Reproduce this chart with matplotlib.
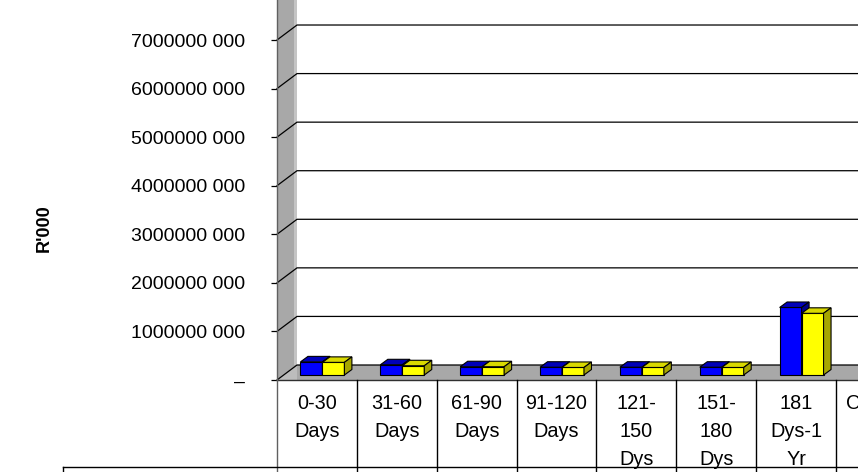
import numpy as np
import matplotlib
matplotlib.use("Agg")
import matplotlib.pyplot as plt
from matplotlib.patches import Polygon
from matplotlib.lines import Line2D
from matplotlib.transforms import blended_transform_factory

# ---------------- data ----------------
categories = ["0-30\nDays", "31-60\nDays", "61-90\nDays", "91-120\nDays",
              "121-\n150\nDys", "151-\n180\nDys", "181\nDys-1\nYr", "Over 1\nYr"]
series_blue = [0.27e9, 0.21e9, 0.17e9, 0.16e9, 0.16e9, 0.16e9, 1.39e9, 8.6e9]
series_yellow = [0.26e9, 0.19e9, 0.17e9, 0.155e9, 0.155e9, 0.155e9, 1.27e9, 8.6e9]
ytick_values = [0, 1e9, 2e9, 3e9, 4e9, 5e9, 6e9, 7e9, 8e9]
y_label = "R'000"

# ---------------- style ----------------
plt.rcParams['font.family'] = ['Liberation Sans', 'DejaVu Sans']

W, H, DPI = 858, 472, 100
fig = plt.figure(figsize=(W / DPI, H / DPI), dpi=DPI)

n = len(categories)
col_px = 79.86
y_px_per_unit = 48.57 / 1e9
ymax = 9e9
ax_left, ax_bottom_row = 277, 380
ax_w = n * col_px
ax_h = ymax * y_px_per_unit
ax = fig.add_axes([ax_left / W, (H - ax_bottom_row) / H, ax_w / W, ax_h / H])
ax.set_xlim(-0.5, n - 0.5)
ax.set_ylim(0, ymax)
ax.patch.set_alpha(0)

def dxp(px):
    return px / col_px

def dyp(px):
    return px / y_px_per_unit

wall_dx, wall_dy = dxp(20), dyp(15)
x0, x1 = -0.5, n - 0.5 + 1
gray = "#a8a8a8"

# left side wall
ax.add_patch(Polygon([(x0, 0), (x0, ymax), (x0 + wall_dx, ymax + wall_dy), (x0 + wall_dx, wall_dy)],
                     closed=True, fc=gray, ec="none", clip_on=False, zorder=1))
ax.add_patch(Polygon([(x0 + wall_dx * 0.85, wall_dy), (x0 + wall_dx * 0.85, ymax + wall_dy),
                      (x0 + wall_dx, ymax + wall_dy), (x0 + wall_dx, wall_dy)],
                     closed=True, fc="#c4c4c4", ec="none", clip_on=False, zorder=1))
# floor
ax.add_patch(Polygon([(x0, 0), (x1, 0), (x1 + wall_dx, wall_dy), (x0 + wall_dx, wall_dy)],
                     closed=True, fc=gray, ec="none", clip_on=False, zorder=1))
ax.add_patch(Polygon([(x0, 0), (x0 + wall_dx, wall_dy), (x0 + wall_dx, 0)],
                     closed=True, fc="#bcbcbc", ec="none", clip_on=False, zorder=1))

# gridlines on back wall + side wall
for v in ytick_values:
    ax.plot([x0, x0 + wall_dx, x1 + wall_dx], [v, v + wall_dy, v + wall_dy],
            color="black", lw=0.9, clip_on=False, zorder=2)

# front floor edge
ax.plot([x0, x1], [0, 0], color="#303030", lw=1.0, clip_on=False, zorder=2)

# bars
bw = 0.275
boff = 0.29
bfx, bfy = dxp(6.7), dyp(5)
bdx, bdy = dxp(7.5), dyp(5.5)
blue = ("#0000ff", "#0000b8", "#000088")
yellow = ("#ffff00", "#d9d900", "#a6a600")

def draw_bar(xl, v, cols, z):
    front, top, side = cols
    xa, ya = xl + bfx, bfy
    xb = xa + bw
    kw = dict(ec="black", lw=0.8, clip_on=False, zorder=z, joinstyle="miter")
    ax.add_patch(Polygon([(xa, ya), (xb, ya), (xb, ya + v), (xa, ya + v)], fc=front, **kw))
    ax.add_patch(Polygon([(xa, ya + v), (xb, ya + v), (xb + bdx, ya + v + bdy), (xa + bdx, ya + v + bdy)],
                         fc=top, **kw))
    ax.add_patch(Polygon([(xb, ya), (xb + bdx, ya + bdy), (xb + bdx, ya + v + bdy), (xb, ya + v)],
                         fc=side, **kw))

for i in range(n):
    draw_bar(i - boff, series_blue[i], blue, 3 + 2 * i)
    draw_bar(i - boff + bw, series_yellow[i], yellow, 4 + 2 * i)

# axes styling
for s in ["top", "right", "bottom"]:
    ax.spines[s].set_visible(False)
ax.spines["left"].set_color("#606060")
ax.spines["left"].set_linewidth(1.0)
ax.spines["left"].set_zorder(2)

def fmt(v):
    return "–" if v == 0 else f"{int(v / 1000)} 000"

ax.set_yticks(ytick_values)
ax.set_yticklabels([fmt(v) for v in ytick_values], fontsize=14)
ax.tick_params(axis="y", direction="out", length=4.3, width=0.9, color="black", pad=18.5)

ax.set_xticks(range(n))
ax.set_xticklabels(categories, fontsize=14.3, va="top")
ax.tick_params(axis="x", length=0, pad=10)
for lab in ax.get_xticklabels():
    lab.set_linespacing(1.6)

# category / table cell lines
xt = ax.get_xaxis_transform()
yb = -0.3
for k in range(n + 1):
    ax.add_line(Line2D([k - 0.5, k - 0.5], [0, yb], transform=xt, color="black" if k else "#606060",
                       lw=1.0, clip_on=False))
trow = -(467 - ax_bottom_row) / ax_h
bt = blended_transform_factory(fig.transFigure, ax.transAxes)
ax.add_line(Line2D([63 / W, 1.05], [trow, trow], transform=bt, color="black", lw=1.0, clip_on=False))
ax.add_line(Line2D([63 / W, 63 / W], [trow, yb], transform=bt, color="black", lw=1.0, clip_on=False))

fig.text(44 / W, (H - 228) / H, y_label, rotation=90, fontsize=13, fontweight="bold",
         ha="center", va="center")

fig.savefig("out.png", dpi=DPI)
